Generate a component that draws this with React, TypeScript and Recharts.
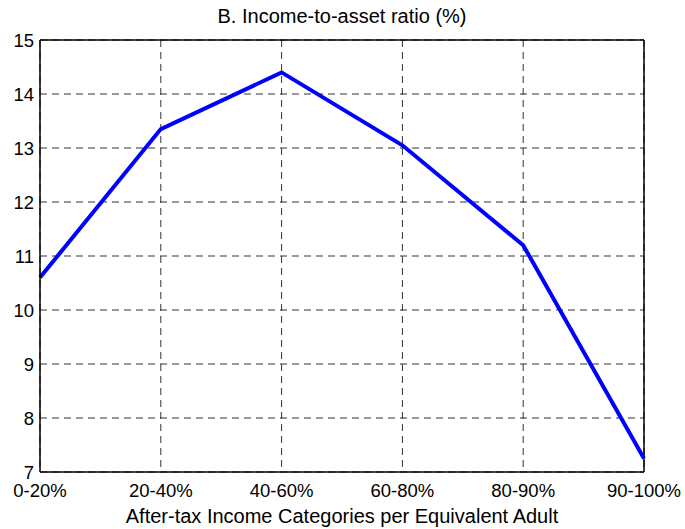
import React from "react";
import { LineChart, Line, XAxis, YAxis, CartesianGrid, ReferenceLine } from "recharts";

const categories = ["0-20%", "20-40%", "40-60%", "60-80%", "80-90%", "90-100%"];
const ratioValues = [10.6, 13.35, 14.4, 13.05, 11.2, 7.25];
const yTicks = [7, 8, 9, 10, 11, 12, 13, 14, 15];

const data = categories.map((c, i) => ({ cat: c, v: ratioValues[i] }));

const FONT = "'Liberation Sans', Arial, sans-serif";

export default function App() {
  return (
    <div style={{ position: "absolute", left: 0, top: 0, width: 685, height: 529, background: "#fff" }}>
      <div
        style={{
          position: "absolute",
          left: 40,
          width: 604,
          top: 5,
          textAlign: "center",
          fontFamily: FONT,
          fontSize: 20,
          color: "#000",
          whiteSpace: "nowrap",
        }}
      >
        B. Income-to-asset ratio (%)
      </div>
      <LineChart
        width={685}
        height={529}
        data={data}
        margin={{ top: 40, right: 41, left: 0, bottom: 0 }}
      >
        <CartesianGrid stroke="#333" strokeDasharray="7 5" />
        <XAxis
          dataKey="cat"
          height={57}
          tickLine={false}
          tickSize={0}
          tickMargin={12}
          axisLine={{ stroke: "#000", strokeWidth: 1.5 }}
          tick={{ fill: "#000", fontSize: 18.5, fontFamily: FONT }}
          interval={0}
          label={{ value: "After-tax Income Categories per Equivalent Adult", position: "insideBottom", offset: 6, fill: "#000", fontSize: 20, fontFamily: FONT }}
        />
        <YAxis
          width={40}
          domain={[7, 15]}
          ticks={yTicks}
          tickLine={false}
          tickSize={0}
          tickMargin={6}
          axisLine={{ stroke: "#000", strokeWidth: 1.5 }}
          tick={{ fill: "#000", fontSize: 18.5, fontFamily: FONT }}
        />
        <ReferenceLine y={15} stroke="#000" strokeWidth={1.5} />
        <ReferenceLine x="90-100%" stroke="#000" strokeWidth={1.5} />
        <Line
          type="linear"
          dataKey="v"
          stroke="#0000ff"
          strokeWidth={4}
          dot={false}
          isAnimationActive={false}
        />
      </LineChart>
    </div>
  );
}
